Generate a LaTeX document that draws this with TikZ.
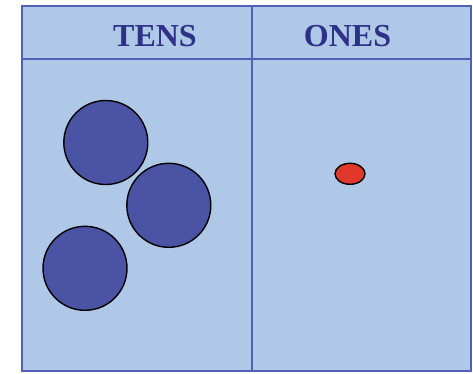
\documentclass[tikz,border=0pt]{standalone}
\usepackage{fontspec}
\setmainfont{Liberation Serif}
\usetikzlibrary{positioning,shapes.geometric}
\definecolor{cPanel}{HTML}{AFC8E7}
\definecolor{cEdge}{HTML}{5260B8}
\definecolor{cDisc}{HTML}{4B54A4}
\definecolor{cHead}{HTML}{2E3188}
\definecolor{cUnit}{HTML}{E0392A}

\begin{document}
\begin{tikzpicture}[x=1pt,y=-1pt,
      hdr/.style={text=cHead,font=\fontsize{32}{32}\selectfont\bfseries},
      tenc/.style={circle,draw=black,line width=1.4pt,fill=cDisc,minimum size=84pt,inner sep=0pt},
      onec/.style={ellipse,draw=black,line width=1.4pt,fill=cUnit,minimum width=30pt,minimum height=21pt,inner sep=0pt}]
    \useasboundingbox (0,0) rectangle (473,373);
    % chart
    \draw[cEdge,line width=1.8pt,fill=cPanel] (22,6) rectangle (471,371);
    \draw[cEdge,line width=1.8pt] (22,59) -- (471,59);
    \draw[cEdge,line width=1.8pt] (252,6) -- (252,371);
    \node[hdr] (tens) at (155,36) {TENS};
    \node[hdr] (ones) at (347.5,36) {ONES};
    % tens
    \node[tenc] (t1) at (105.8,142.5) {};
    \node[tenc] (t2) at (168.8,205.3) {};
    \node[tenc] (t3) at (85,268.3) {};
    % ones
    \node[onec] (o1) at (350,173.8) {};
  \end{tikzpicture}
\end{document}
